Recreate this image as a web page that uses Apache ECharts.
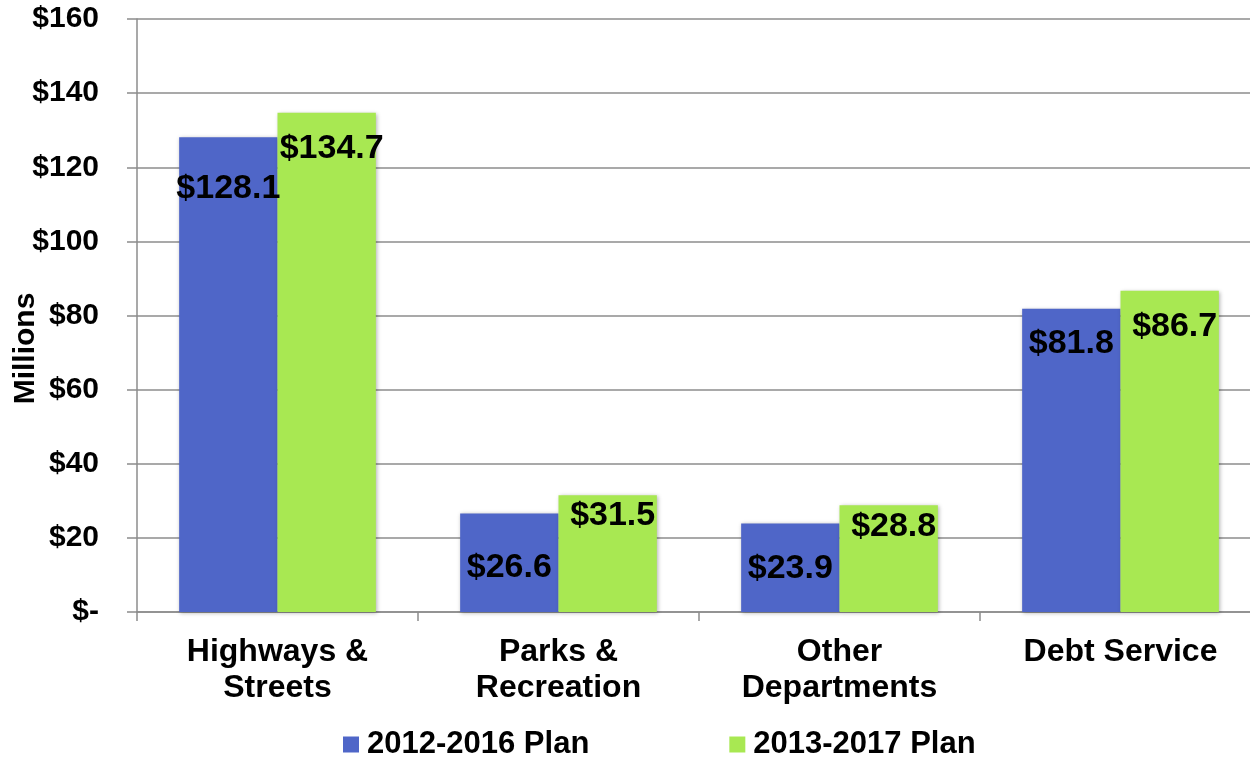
<!DOCTYPE html>
<html>
<head>
<meta charset="utf-8">
<script src="https://cdn.jsdelivr.net/npm/echarts@6/dist/echarts.min.js"></script>
<style>
html,body{margin:0;padding:0;background:#fff;}
#chart{width:1250px;height:758px;}
</style>
</head>
<body>
<div id="chart"></div>
<script>
const categories = ['Highways &\nStreets', 'Parks &\nRecreation', 'Other\nDepartments', 'Debt Service'];
const seriesNames = ['2012-2016 Plan', '2013-2017 Plan'];
const plan2012 = [128.1, 26.6, 23.9, 81.8];
const plan2013 = [134.7, 31.5, 28.8, 86.7];

// label placement (style only): distance of each value label below its bar top
const labelDist2012 = [34, 37, 28, 18];
const labelDist2013 = [19, 3, 4, 19];

const FONT = '"Liberation Sans", Arial, sans-serif';
const chart = echarts.init(document.getElementById('chart'));

function labelCfg(dx) {
  return {
    show: true,
    position: 'insideTop',
    offset: [dx, 0],
    formatter: p => '$' + p.value.toFixed(1),
    color: '#000',
    fontFamily: FONT,
    fontWeight: 'bold',
    fontSize: 34
  };
}

chart.setOption({
  animation: false,
  backgroundColor: '#fff',
  grid: { left: 137, right: -11, top: 19, bottom: 146, containLabel: false, outerBoundsMode: 'none' },
  legend: {
    bottom: -7,
    left: 338,
    itemWidth: 16,
    itemHeight: 16,
    itemGap: 140,
    icon: 'rect',
    textStyle: { fontFamily: FONT, fontWeight: 'bold', fontSize: 31, color: '#000', padding: [0,0,0,3] },
    data: seriesNames
  },
  xAxis: {
    type: 'category',
    data: categories,
    axisLine: { lineStyle: { color: '#8c8c8c', width: 1.5 } },
    axisTick: { show: true, length: 9, lineStyle: { color: '#8c8c8c', width: 1.5 } },
    axisLabel: {
      fontFamily: FONT, fontWeight: 'bold', fontSize: 32, color: '#000',
      margin: 22, lineHeight: 36
    }
  },
  yAxis: {
    type: 'value',
    min: 0, max: 160, interval: 20,
    name: 'Millions',
    nameLocation: 'middle',
    nameGap: 96,
    nameMoveOverlap: false,
    nameRotate: 90,
    nameTextStyle: { fontFamily: FONT, fontWeight: 'bold', fontSize: 30, color: '#000', padding: [0,0,0,-66] },
    axisLine: { show: true, lineStyle: { color: '#8c8c8c', width: 1.5 } },
    axisTick: { show: true, length: 10, lineStyle: { color: '#8c8c8c', width: 1.5 } },
    splitLine: { show: true, lineStyle: { color: '#8c8c8c', width: 1.5 } },
    axisLabel: {
      margin: 38,
      fontFamily: FONT, fontWeight: 'bold', fontSize: 30, color: '#000',
      formatter: v => v === 0 ? '$-' : '$' + v
    }
  },
  series: [
    {
      name: seriesNames[0],
      type: 'bar',
      data: plan2012.map((v, i) => ({ value: v, label: { distance: labelDist2012[i] } })),
      barGap: '0%',
      barCategoryGap: '30%',
      itemStyle: { color: '#4F66C8', shadowBlur: 4, shadowColor: 'rgba(0,0,0,0.3)', shadowOffsetX: 1, shadowOffsetY: 1 },
      label: labelCfg(0)
    },
    {
      name: seriesNames[1],
      type: 'bar',
      data: plan2013.map((v, i) => ({ value: v, label: { distance: labelDist2013[i] } })),
      barGap: '0%',
      barCategoryGap: '30%',
      itemStyle: { color: '#A8E852', shadowBlur: 4, shadowColor: 'rgba(0,0,0,0.3)', shadowOffsetX: 1, shadowOffsetY: 1 },
      label: labelCfg(5)
    }
  ]
});
</script>
</body>
</html>
